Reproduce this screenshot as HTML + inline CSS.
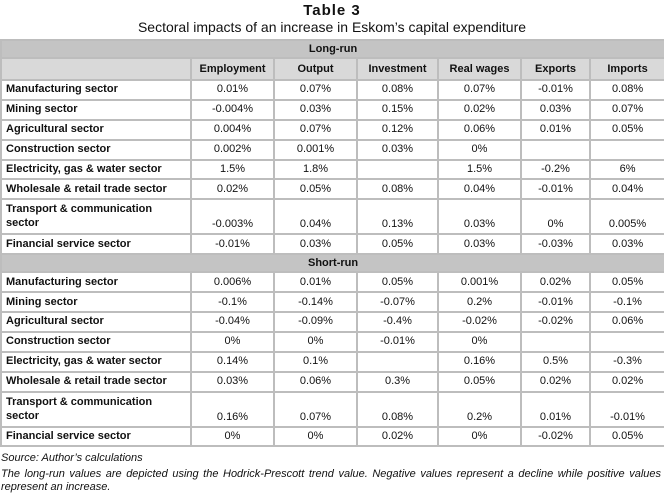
<!DOCTYPE html>
<html><head><meta charset="utf-8"><style>
body{margin:0;width:664px;height:489px;background:#fff;font-family:"Liberation Sans",Arial,sans-serif;color:#111;overflow:hidden}
.t1{position:absolute;top:2px;left:0;width:664px;text-align:center;font-weight:bold;font-size:15px;letter-spacing:1px}
.t2{position:absolute;top:19px;left:0;width:664px;text-align:center;font-size:14px}
table{position:absolute;top:39px;left:0;width:664px;border-collapse:collapse;table-layout:fixed;font-size:11px;border:2px solid #999}
td{border:2px solid #bdbdbd;padding:0 4px;height:17.9px;line-height:13px;text-align:center}
td.l{text-align:left;font-weight:bold;padding-left:4px}
tr.sec td{background:#c4c4c4;font-weight:bold;height:16px}
tr.hd td{background:#d9d9d9;font-weight:bold;height:20px}
tr.tall td{height:31px;vertical-align:bottom;padding-bottom:2px}
tr.tall td.l{vertical-align:top;line-height:14px;padding-top:2px;padding-bottom:0}
.src{position:absolute;top:452px;left:1px;font-size:11px;font-style:italic}
.note{position:absolute;top:468px;left:1px;width:660px;font-size:11px;font-style:italic;text-align:justify;text-align-last:left;line-height:13px}
</style></head><body>
<div class="t1">Table 3</div>
<div class="t2">Sectoral impacts of an increase in Eskom’s capital expenditure</div>
<table>
<colgroup><col style="width:190px"><col style="width:83px"><col style="width:83px"><col style="width:81px"><col style="width:83px"><col style="width:69px"><col style="width:75px"></colgroup>
<tr class="sec"><td colspan="7">Long-run</td></tr>
<tr class="hd"><td></td><td>Employment</td><td>Output</td><td>Investment</td><td>Real wages</td><td>Exports</td><td>Imports</td></tr>
<tr><td class="l">Manufacturing sector</td><td>0.01%</td><td>0.07%</td><td>0.08%</td><td>0.07%</td><td>-0.01%</td><td>0.08%</td></tr>
<tr><td class="l">Mining sector</td><td>-0.004%</td><td>0.03%</td><td>0.15%</td><td>0.02%</td><td>0.03%</td><td>0.07%</td></tr>
<tr><td class="l">Agricultural sector</td><td>0.004%</td><td>0.07%</td><td>0.12%</td><td>0.06%</td><td>0.01%</td><td>0.05%</td></tr>
<tr><td class="l">Construction sector</td><td>0.002%</td><td>0.001%</td><td>0.03%</td><td>0%</td><td></td><td></td></tr>
<tr><td class="l">Electricity, gas &amp; water sector</td><td>1.5%</td><td>1.8%</td><td></td><td>1.5%</td><td>-0.2%</td><td>6%</td></tr>
<tr><td class="l">Wholesale &amp; retail trade sector</td><td>0.02%</td><td>0.05%</td><td>0.08%</td><td>0.04%</td><td>-0.01%</td><td>0.04%</td></tr>
<tr class="tall"><td class="l">Transport &amp; communication sector</td><td>-0.003%</td><td>0.04%</td><td>0.13%</td><td>0.03%</td><td>0%</td><td>0.005%</td></tr>
<tr><td class="l">Financial service sector</td><td>-0.01%</td><td>0.03%</td><td>0.05%</td><td>0.03%</td><td>-0.03%</td><td>0.03%</td></tr>
<tr class="sec"><td colspan="7">Short-run</td></tr>
<tr><td class="l">Manufacturing sector</td><td>0.006%</td><td>0.01%</td><td>0.05%</td><td>0.001%</td><td>0.02%</td><td>0.05%</td></tr>
<tr><td class="l">Mining sector</td><td>-0.1%</td><td>-0.14%</td><td>-0.07%</td><td>0.2%</td><td>-0.01%</td><td>-0.1%</td></tr>
<tr><td class="l">Agricultural sector</td><td>-0.04%</td><td>-0.09%</td><td>-0.4%</td><td>-0.02%</td><td>-0.02%</td><td>0.06%</td></tr>
<tr><td class="l">Construction sector</td><td>0%</td><td>0%</td><td>-0.01%</td><td>0%</td><td></td><td></td></tr>
<tr><td class="l">Electricity, gas &amp; water sector</td><td>0.14%</td><td>0.1%</td><td></td><td>0.16%</td><td>0.5%</td><td>-0.3%</td></tr>
<tr><td class="l">Wholesale &amp; retail trade sector</td><td>0.03%</td><td>0.06%</td><td>0.3%</td><td>0.05%</td><td>0.02%</td><td>0.02%</td></tr>
<tr class="tall"><td class="l">Transport &amp; communication sector</td><td>0.16%</td><td>0.07%</td><td>0.08%</td><td>0.2%</td><td>0.01%</td><td>-0.01%</td></tr>
<tr><td class="l">Financial service sector</td><td>0%</td><td>0%</td><td>0.02%</td><td>0%</td><td>-0.02%</td><td>0.05%</td></tr>
</table>
<div class="src">Source: Author’s calculations</div>
<div class="note">The long-run values are depicted using the Hodrick-Prescott trend value. Negative values represent a decline while positive values represent an increase.</div>
</body></html>
